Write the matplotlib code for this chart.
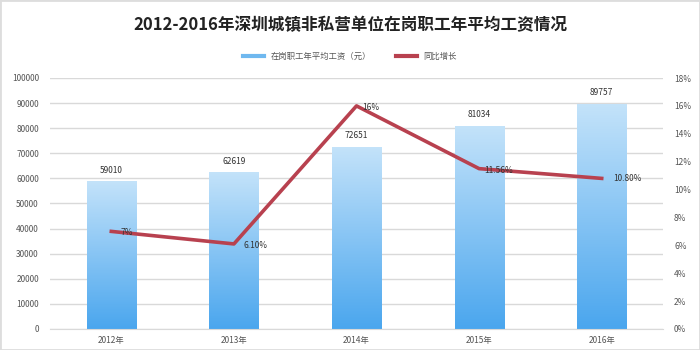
import matplotlib
matplotlib.use("Agg")
import matplotlib.pyplot as plt
import numpy as np
from matplotlib.colors import LinearSegmentedColormap
from matplotlib.lines import Line2D

plt.rcParams['font.family'] = ['Noto Sans CJK SC', 'DejaVu Sans']

years = ["2012年", "2013年", "2014年", "2015年", "2016年"]
wages = [59010, 62619, 72651, 81034, 89757]
growth = [7.0, 6.1, 16.0, 11.5, 10.8]
growth_labels = ["7%", "6.10%", "16%", "11.56%", "10.80%"]
title = "2012-2016年深圳城镇非私营单位在岗职工年平均工资情况"
bar_name = "在岗职工年平均工资（元）"
line_name = "同比增长"

fig = plt.figure(figsize=(7, 3.5), dpi=100)
ax = fig.add_axes([50/700, 1-329/350, 613/700, 251/350])
ax2 = ax.twinx()

x = np.arange(len(years))
bars = ax.bar(x, wages, width=0.4, color="none", edgecolor="none", zorder=2)
cmap = LinearSegmentedColormap.from_list("g", ["#4aa6ee", "#c4e3fa"])
grad = np.linspace(0, 1, 256).reshape(-1, 1)
for b in bars:
    x0, y0 = b.get_x(), b.get_y()
    w, h = b.get_width(), b.get_height()
    im = ax.imshow(grad, cmap=cmap, origin="lower", aspect="auto",
                   extent=[x0, x0 + w, y0, y0 + h], zorder=2)
    im.set_clip_path(b)
for xi, v in zip(x, wages):
    ax.text(xi, v + 2500, str(v), ha="center", va="bottom", fontsize=6, color="#333333")

ax.set_xlim(-0.5, len(years) - 0.5)
ax.set_ylim(0, 100000)
ax.set_yticks(np.arange(0, 100001, 10000))
ax.set_yticklabels([str(v) for v in range(0, 100001, 10000)])
ax.grid(axis="y", color="#d9d9d9", linewidth=1, zorder=0)
ax.set_axisbelow(True)
ax.set_xticks(x)
ax.set_xticklabels(years)

ax2.plot(x, growth, color="#b8414f", linewidth=2.6, zorder=5)
ax2.set_ylim(0, 18)
ax2.set_yticks(np.arange(0, 19, 2))
ax2.set_yticklabels([f"{v}%" for v in range(0, 19, 2)])
offsets = [(7, -1), (7, -1), (4, -1), (4, -1), (8, 0)]
for xi, g, lab, off in zip(x, growth, growth_labels, offsets):
    ax2.annotate(lab, (xi, g), xytext=off, textcoords="offset points",
                 ha="left", va="center", fontsize=6, color="#333333", zorder=6)

for a in (ax, ax2):
    for s in a.spines.values():
        s.set_visible(False)
    a.tick_params(length=0, labelsize=6, colors="#555555")
ax.tick_params(axis="y", pad=8)
ax.tick_params(axis="x", pad=5)
ax2.tick_params(axis="y", pad=8)
ax.spines["bottom"].set_visible(True)
ax.spines["bottom"].set_color("#d9d9d9")

fig.text(0.5, 1 - 25/350, title, ha="center", va="center", fontsize=12,
         fontweight="bold", color="#222222")

handles = [Line2D([0], [0], color="#6fb8ef", lw=3), Line2D([0], [0], color="#b8414f", lw=3)]
fig.legend(handles, [bar_name, line_name], loc="center", bbox_to_anchor=(0.5, 1 - 56/350),
           ncol=2, frameon=False, fontsize=6, handlelength=2.5, columnspacing=3,
           labelcolor="#555555")

fig.patches.append(plt.Rectangle((0, 0), 1, 1, transform=fig.transFigure,
                                 fill=False, edgecolor="#dddddd", linewidth=2))
fig.savefig("out.png", dpi=100)
